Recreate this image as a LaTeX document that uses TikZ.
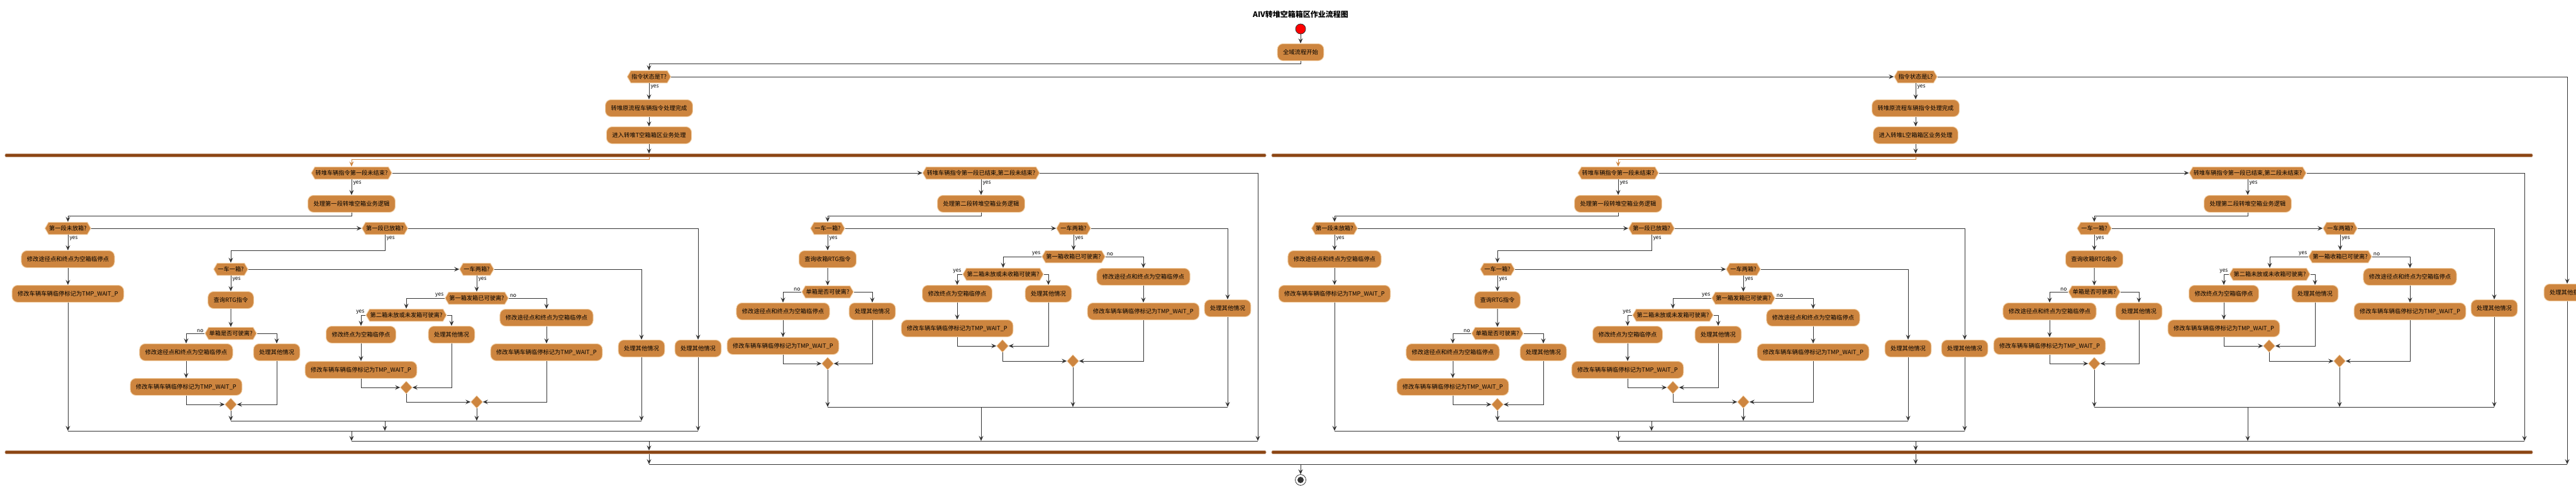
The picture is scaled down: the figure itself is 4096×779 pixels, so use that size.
\documentclass[tikz,border=0pt]{standalone}
\usepackage{fontspec}
\setmainfont{Noto Sans CJK SC}
\usetikzlibrary{arrows.meta,shapes.symbols,shapes.geometric,calc}
\definecolor{actfill}{HTML}{CD853F}
\definecolor{actborder}{HTML}{F1CFA6}
\definecolor{barfill}{HTML}{8B4513}
\definecolor{linec}{HTML}{333333}
\tikzset{
  act/.style={rectangle, rounded corners=9pt, fill=actfill, draw=actborder, line width=1pt, minimum height=27pt, inner xsep=9pt, inner ysep=2pt, font=\fontsize{9.3pt}{11pt}\selectfont, text=black},
  hexd/.style={signal, signal to=east and west, signal pointer angle=120, fill=actfill, draw=actborder, line width=1pt, minimum height=19.5pt, inner xsep=1pt, inner ysep=1pt, font=\fontsize{9.2pt}{11pt}\selectfont, text=black},
  mrg/.style={diamond, fill=actfill, draw=actborder, line width=0.6pt, minimum width=19pt, minimum height=20pt, inner sep=0pt},
  forkbar/.style={rectangle, rounded corners=2pt, fill=barfill, draw=barfill!55!white, line width=0.7pt, minimum height=5pt, inner sep=0pt},
  arr/.style={draw=linec, line width=1pt, -{Stealth[length=8pt,width=7pt,inset=3pt]}},
  ln/.style={draw=linec, line width=1pt},
  lbl/.style={font=\fontsize{8.5pt}{10pt}\selectfont, inner sep=1pt, text=black},
  ylab/.style={lbl, pos=0, anchor=north west, xshift=1pt, yshift=-1pt},
  lylab/.style={lbl, pos=0, anchor=south east, xshift=-0.5pt},
  rnlab/.style={lbl, pos=0, anchor=south west, xshift=0.5pt},
  titlest/.style={font=\bfseries\fontsize{12pt}{14pt}\selectfont, text=black},
  startc/.style={circle, fill=red, draw=black!80, line width=0.8pt, minimum size=16pt, inner sep=0pt},
  endc/.style={circle, draw=linec, fill=white, line width=0.8pt, minimum size=17pt, inner sep=0pt},
  endin/.style={circle, fill=linec, minimum size=10pt, inner sep=0pt},
}
\newcommand\halfflow[1]{%
  % ---- top of branch
  \node[hexd] (#1d0) at (1032,122) {指令状态是#1?};
  \node[act] (#1a01) at (1032,172) {转堆原流程车辆指令处理完成};
  \node[act] (#1a02) at (1032,215) {进入转堆#1空箱箱区业务处理};
  \node[forkbar, minimum width=2005pt] (#1fk) at (1010.5,247) {};
  \node[forkbar, minimum width=2005pt] (#1jn) at (1010.5,719) {};
  % ---- stage 1
  \node[hexd] (#1d1) at (559,275) {转堆车辆指令第一段未结束?};
  \node[act] (#1a1) at (559,324) {处理第一段转堆空箱业务逻辑};
  \node[hexd] (#1d11) at (108,363) {第一段未放箱?};
  \node[act] (#1a111) at (108,412) {修改途径点和终点为空箱临停点};
  \node[act] (#1a112) at (108,467) {修改车辆车辆临停标记为TMP\_WAIT\_P};
  \node[hexd] (#1d12) at (612,363) {第一段已放箱?};
  \node[hexd] (#1d121) at (367,428) {一车一箱?};
  \node[act] (#1a1211) at (367,477) {查询RTG指令};
  \node[hexd] (#1d1211) at (367,530) {单箱是否可驶离?};
  \node[act] (#1a12111) at (296,560) {修改途径点和终点为空箱临停点};
  \node[act] (#1a12112) at (296,615) {修改车辆车辆临停标记为TMP\_WAIT\_P};
  \node[act] (#1a12113) at (440,560) {处理其他情况};
  \node[mrg] (#1m1211) at (367,643) {};
  \node[hexd] (#1d122) at (758,428) {一车两箱?};
  \node[hexd] (#1d1221) at (758,474) {第一箱发箱已可驶离?};
  \node[hexd] (#1d12211) at (646,501) {第二箱未放或未发箱可驶离?};
  \node[act] (#1a122111) at (574,532) {修改终点为空箱临停点};
  \node[act] (#1a122112) at (574,588) {修改车辆车辆临停标记为TMP\_WAIT\_P};
  \node[act] (#1a122113) at (718,532) {处理其他情况};
  \node[mrg] (#1m12211) at (646,616) {};
  \node[act] (#1a12212) at (869,505) {修改途径点和终点为空箱临停点};
  \node[act] (#1a12213) at (869,560) {修改车辆车辆临停标记为TMP\_WAIT\_P};
  \node[mrg] (#1m1221) at (758,639) {};
  \node[act] (#1a123) at (1020,554) {处理其他情况};
  \node[act] (#1a13) at (1110,554) {处理其他情况};
  % ---- stage 2
  \node[hexd] (#1d2) at (1560,275) {转堆车辆指令第一段已结束,第二段未结束?};
  \node[act] (#1a2) at (1560,324) {处理第二段转堆空箱业务逻辑};
  \node[hexd] (#1d21) at (1316,363) {一车一箱?};
  \node[act] (#1a211) at (1316,412) {查询收箱RTG指令};
  \node[hexd] (#1d211) at (1316,464) {单箱是否可驶离?};
  \node[act] (#1a2111) at (1245,495) {修改途径点和终点为空箱临停点};
  \node[act] (#1a2112) at (1245,550) {修改车辆车辆临停标记为TMP\_WAIT\_P};
  \node[act] (#1a2113) at (1387,495) {处理其他情况};
  \node[mrg] (#1m211) at (1316,578) {};
  \node[hexd] (#1d22) at (1707,363) {一车两箱?};
  \node[hexd] (#1d221) at (1707,408) {第一箱收箱已可驶离?};
  \node[hexd] (#1d2211) at (1595,436) {第二箱未放或未收箱可驶离?};
  \node[act] (#1a22111) at (1522,467) {修改终点为空箱临停点};
  \node[act] (#1a22112) at (1522,522) {修改车辆车辆临停标记为TMP\_WAIT\_P};
  \node[act] (#1a22113) at (1667,467) {处理其他情况};
  \node[mrg] (#1m2211) at (1594,550) {};
  \node[act] (#1a2212) at (1818,440) {修改途径点和终点为空箱临停点};
  \node[act] (#1a2213) at (1818,495) {修改车辆车辆临停标记为TMP\_WAIT\_P};
  \node[mrg] (#1m221) at (1706,574) {};
  \node[act] (#1a23) at (1952,490) {处理其他情况};
  % ---- coordinates of merge lines
  \coordinate (#1j121) at (612,669);
  \coordinate (#1j11) at (559,685);
  \coordinate (#1j1) at (1032,701);
  \coordinate (#1j21) at (1560,647);
  \coordinate (#1e2) at (2000,275);
  % ---- connectors: top
  \draw[arr] (#1d0.south) -- node[ylab]{yes} (#1a01.north);
  \draw[arr] (#1a01) -- (#1a02);
  \draw[arr] (#1a02.south) -- (#1a02.south |- #1fk.north);
  \draw[arr, draw=actfill] (#1a02.south |- #1fk.south) -- ++(0,3.5) -| (#1d1.north);
  % ---- connectors: stage 1
  \draw[arr] (#1d1.south) -- node[ylab]{yes} (#1a1.north);
  \draw[arr] (#1a1.south) -- ++(0,5) -| (#1d11.north);
  \draw[arr] (#1d11.south) -- node[ylab]{yes} (#1a111.north);
  \draw[arr] (#1a111) -- (#1a112);
  \draw[arr] (#1d11.east) -- (#1d12.west);
  \draw[arr] (#1d12.south) -- node[ylab]{yes} ++(0,25) -| (#1d121.north);
  \draw[arr] (#1d12.east) -| (#1a13.north);
  \draw[arr] (#1d121.south) -- node[ylab]{yes} (#1a1211.north);
  \draw[arr] (#1a1211) -- (#1d1211);
  \draw[arr] (#1d1211.west) -| node[lylab]{no} (#1a12111.north);
  \draw[arr] (#1d1211.east) -| (#1a12113.north);
  \draw[arr] (#1a12111) -- (#1a12112);
  \draw[arr] (#1a12112.south) |- (#1m1211.west);
  \draw[arr] (#1a12113.south) |- (#1m1211.east);
  \draw[arr] (#1d121.east) -- (#1d122.west);
  \draw[arr] (#1d122.east) -| (#1a123.north);
  \draw[arr] (#1d122.south) -- node[ylab]{yes} (#1d1221.north);
  \draw[arr] (#1d1221.west) -| node[lylab]{yes} (#1d12211.north);
  \draw[arr] (#1d1221.east) -| node[rnlab]{no} (#1a12212.north);
  \draw[arr] (#1d12211.west) -| node[lylab]{yes} (#1a122111.north);
  \draw[arr] (#1d12211.east) -| (#1a122113.north);
  \draw[arr] (#1a122111) -- (#1a122112);
  \draw[arr] (#1a122112.south) |- (#1m12211.west);
  \draw[arr] (#1a122113.south) |- (#1m12211.east);
  \draw[arr] (#1m12211.south) |- (#1m1221.west);
  \draw[arr] (#1a12212) -- (#1a12213);
  \draw[arr] (#1a12213.south) |- (#1m1221.east);
  % ---- merges of stage 1
  \draw[arr] (#1m1211.south) -- (#1m1211.south |- #1j121);
  \draw[arr] (#1m1221.south) -- (#1m1221.south |- #1j121);
  \draw[arr] (#1a123.south) -- (#1a123.south |- #1j121);
  \draw[ln] (#1m1211.south |- #1j121) -- (#1a123.south |- #1j121);
  \draw[arr] (#1j121) -- (#1j121 |- #1j11);
  \draw[arr] (#1a112.south) -- (#1a112.south |- #1j11);
  \draw[arr] (#1a13.south) -- (#1a13.south |- #1j11);
  \draw[ln] (#1a112.south |- #1j11) -- (#1a13.south |- #1j11);
  \draw[arr] (#1j11) -- (#1j11 |- #1j1);
  % ---- connectors: stage 2
  \draw[arr] (#1d1.east) -- (#1d2.west);
  \draw[arr] (#1d2.south) -- node[ylab]{yes} (#1a2.north);
  \draw[arr] (#1a2.south) -- ++(0,5) -| (#1d21.north);
  \draw[arr] (#1d21.south) -- node[ylab]{yes} (#1a211.north);
  \draw[arr] (#1a211) -- (#1d211);
  \draw[arr] (#1d211.west) -| node[lylab]{no} (#1a2111.north);
  \draw[arr] (#1d211.east) -| (#1a2113.north);
  \draw[arr] (#1a2111) -- (#1a2112);
  \draw[arr] (#1a2112.south) |- (#1m211.west);
  \draw[arr] (#1a2113.south) |- (#1m211.east);
  \draw[arr] (#1d21.east) -- (#1d22.west);
  \draw[arr] (#1d22.east) -| (#1a23.north);
  \draw[arr] (#1d22.south) -- node[ylab]{yes} (#1d221.north);
  \draw[arr] (#1d221.west) -| node[lylab]{yes} (#1d2211.north);
  \draw[arr] (#1d221.east) -| node[rnlab]{no} (#1a2212.north);
  \draw[arr] (#1d2211.west) -| node[lylab]{yes} (#1a22111.north);
  \draw[arr] (#1d2211.east) -| (#1a22113.north);
  \draw[arr] (#1a22111) -- (#1a22112);
  \draw[arr] (#1a22112.south) |- (#1m2211.west);
  \draw[arr] (#1a22113.south) |- (#1m2211.east);
  \draw[arr] (#1m2211.south) |- (#1m221.west);
  \draw[arr] (#1a2212) -- (#1a2213);
  \draw[arr] (#1a2213.south) |- (#1m221.east);
  % ---- merges of stage 2 and of the branch
  \draw[arr] (#1m211.south) -- (#1m211.south |- #1j21);
  \draw[arr] (#1m221.south) -- (#1m221.south |- #1j21);
  \draw[arr] (#1a23.south) -- (#1a23.south |- #1j21);
  \draw[ln] (#1m211.south |- #1j21) -- (#1a23.south |- #1j21);
  \draw[arr] (#1j21) -- (#1j21 |- #1j1);
  \draw[arr] (#1d2.east) -- (#1e2) -- (#1e2 |- #1j1);
  \draw[ln] (#1j11 |- #1j1) -- (#1e2 |- #1j1);
  \draw[arr] (#1j1) -- (#1j1 |- #1jn.north);
}
\begin{document}
\begin{tikzpicture}[x=1pt,y=-1pt]
\useasboundingbox (0,0) rectangle (4096,779);
\fill[white] (0,0) rectangle (4096,779);
\node[titlest] (title) at (2068,23) {AIV转堆空箱箱区作业流程图};
\node[startc] (st) at (2068,46) {};
\node[act] (n0) at (2068,83) {全域流程开始};
\draw[arr] (st) -- (n0);
\begin{scope}
\halfflow{T}
\end{scope}
\begin{scope}[xshift=2014pt]
\halfflow{L}
\end{scope}
\draw[arr] (n0.south) -- ++(0,4) -| (Td0.north);
\draw[arr] (Td0.east) -- (Ld0.west);
\node[act] (oth) at (4082,465) {处理其他指令};
\draw[arr] (Ld0.east) -| (oth.north);
\coordinate (fin) at (2068,738);
\draw[arr] (Td0 |- Tjn.south) -- (Td0 |- fin);
\draw[arr] (Ld0 |- Ljn.south) -- (Ld0 |- fin);
\draw[arr] (oth.south) -- (oth.south |- fin);
\draw[ln] (Td0 |- fin) -- (oth.south |- fin);
\node[endc] (en) at (2068,763) {};
\node[endin] (en2) at (2068,763) {};
\draw[arr] (fin) -- (en.north);
\end{tikzpicture}
\end{document}
